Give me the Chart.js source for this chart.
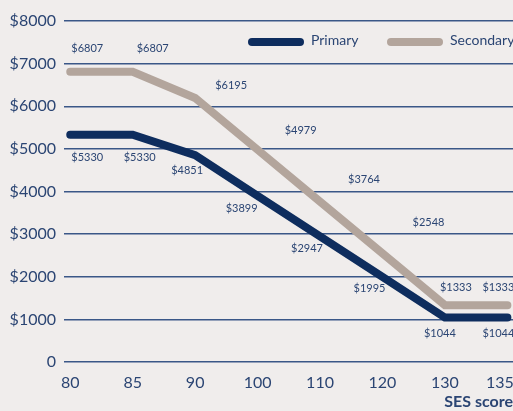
<!DOCTYPE html>
<html>
<head>
<meta charset="utf-8">
<script src="https://cdn.jsdelivr.net/npm/chart.js@4.4.1/dist/chart.umd.min.js"></script>
<style>
  html, body { margin: 0; padding: 0; background: #f0edec; }
  #wrap { width: 513px; height: 411px; }
</style>
</head>
<body>
<div id="wrap"><canvas id="chartSes"></canvas></div>
<script>
const sesScores = ['80', '85', '90', '100', '110', '120', '130', '135'];
const primary = [5330, 5330, 4851, 3899, 2947, 1995, 1044, 1044];
const secondary = [6807, 6807, 6195, 4979, 3764, 2548, 1333, 1333];
const yTicks = [0, 1000, 2000, 3000, 4000, 5000, 6000, 7000, 8000];

const navy = '#0e2d5e';
const tan = '#b3a59c';
const textCol = '#2b4573';
const fontName = 'Lato';

// label offsets (px) from each point
const secOffsets = [[17,-23],[20,-23],[36,-12],[43,-19],[44,-22],[46,-31],[11,-18],[-9,-18]];
const priOffsets = [[17,23],[7,23],[-8,15],[-16,13],[-13,12],[-13,11],[-5,16],[-9,16]];

const toPoints = arr => arr.map((v, i) => ({ x: i, y: v }));

const valueLabels = {
  id: 'valueLabels',
  afterDatasetsDraw(chart) {
    const c = chart.ctx;
    const xs = chart.scales.x, ys = chart.scales.y;
    c.save();
    c.font = '11px ' + fontName;
    c.fillStyle = textCol;
    c.textAlign = 'center';
    c.textBaseline = 'middle';
    secondary.forEach((v, i) => {
      c.fillText('$' + v, xs.getPixelForValue(i) + secOffsets[i][0], ys.getPixelForValue(v) + secOffsets[i][1]);
    });
    primary.forEach((v, i) => {
      c.fillText('$' + v, xs.getPixelForValue(i) + priOffsets[i][0], ys.getPixelForValue(v) + priOffsets[i][1]);
    });
    // legend
    const items = [['Primary', navy, 252], ['Secondary', tan, 391]];
    c.textAlign = 'left';
    c.font = '14px ' + fontName;
    items.forEach(([name, col, x0]) => {
      c.strokeStyle = col;
      c.lineWidth = 8;
      c.lineCap = 'round';
      c.beginPath();
      c.moveTo(x0, 42);
      c.lineTo(x0 + 48, 42);
      c.stroke();
      c.fillText(name, x0 + 59, 40);
    });
    c.restore();
  }
};

const ctx = document.getElementById('chartSes');
new Chart(ctx, {
  type: 'line',
  data: {
    datasets: [{
      label: 'Secondary',
      data: toPoints(secondary),
      borderColor: tan,
      borderWidth: 8,
      pointRadius: 0,
      borderCapStyle: 'round',
      borderJoinStyle: 'miter',
      tension: 0
    }, {
      label: 'Primary',
      data: toPoints(primary),
      borderColor: navy,
      borderWidth: 8,
      pointRadius: 0,
      borderCapStyle: 'round',
      borderJoinStyle: 'miter',
      tension: 0
    }]
  },
  options: {
    responsive: true,
    maintainAspectRatio: false,
    animation: false,
    layout: { padding: { top: 21, left: 0, right: 0, bottom: 0 } },
    plugins: { legend: { display: false }, tooltip: { enabled: false } },
    scales: {
      x: {
        type: 'linear',
        min: -0.1,
        max: 7.09,
        grid: { display: false },
        border: { display: false },
        // last label pulled in so it stays on the page
        afterBuildTicks(s) { s.ticks = sesScores.map((l, i) => ({ value: i === sesScores.length - 1 ? i - 0.12 : i })); },
        ticks: {
          color: textCol,
          font: { family: fontName, size: 16 },
          padding: 3,
          maxRotation: 0,
          callback: (v, i) => sesScores[i]
        },
        title: {
          display: true,
          text: 'SES score',
          align: 'end',
          color: textCol,
          font: { family: fontName, size: 16, weight: 'bold' },
          padding: { top: 3, bottom: 0 }
        },
        afterFit(s) { s.height = 49; s.paddingLeft = 0; s.paddingRight = 0; }
      },
      y: {
        min: 0,
        max: 8000,
        afterBuildTicks(s) { s.ticks = yTicks.map(v => ({ value: v })); },
        grid: { color: '#3a5787', lineWidth: 1.5, drawTicks: false },
        border: { display: false },
        ticks: {
          color: textCol,
          font: { family: fontName, size: 16 },
          padding: 8,
          callback: (v) => v === 0 ? '0' : '$' + v
        },
        afterFit(s) { s.width = 64; s.paddingTop = 0; s.paddingBottom = 0; }
      }
    }
  },
  plugins: [valueLabels]
});
</script>
</body>
</html>
